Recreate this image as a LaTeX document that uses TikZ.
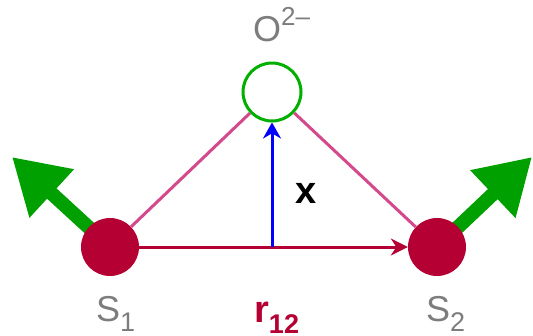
\documentclass[tikz,border=0pt]{standalone}
\usepackage{fontspec}
\setmainfont{Liberation Sans}
\usepackage{xcolor}
\usetikzlibrary{arrows.meta}
\definecolor{ionred}{RGB}{180,0,50}
\definecolor{bondpink}{RGB}{212,72,140}
\definecolor{spingreen}{RGB}{0,160,0}
\definecolor{oxgreen}{RGB}{0,175,0}
\definecolor{labelgray}{RGB}{125,125,125}
\newcommand{\lowidx}[1]{\raisebox{-0.3em}{\fontsize{27}{27}\selectfont #1}}
\newcommand{\highidx}[1]{\raisebox{0.42em}{\fontsize{26}{26}\selectfont #1}}

\begin{document}
\begin{tikzpicture}[x=1pt, y=-1pt, >=Stealth,
  ion/.style={circle, fill=ionred, minimum size=58pt, inner sep=0pt},
  oxy/.style={circle, draw=oxgreen, line width=3pt, fill=white, minimum size=58pt, inner sep=0pt},
  bond/.style={bondpink, line width=3pt},
  spin/.style={spingreen, line width=14pt, -{Triangle[length=54pt, width=62pt]}},
  lbl/.style={labelgray, inner sep=0pt, anchor=base west, font=\fontsize{36}{36}\selectfont}]
  \useasboundingbox (0,0) rectangle (533,335);
  % centres of the two spins and the oxygen
  \coordinate (c1) at (110,247);
  \coordinate (c2) at (437,247);
  % ============= spins =============
  \coordinate (tip1) at (12,157);
  \coordinate (tip2) at (532,157);
  \draw[spin] (c1) -- (tip1);
  \draw[spin] (c2) -- (tip2);
  \node[ion] (s1) at (c1) {};
  \node[ion] (s2) at (c2) {};
  \node[oxy] (o) at (272,92) {};
  % ============= bonds =============
  \draw[bond] (s1) -- (o);
  \draw[bond] (o) -- (s2);
  % r_12 and x
  \draw[ionred, line width=3pt, -{Stealth[length=17pt, width=17pt]}] (s1) -- (s2);
  \coordinate (foot) at (o |- c1);
  \draw[blue, line width=3pt, -{Stealth[length=16pt, width=18pt]}] (foot) -- (o);
  % ============= labels =============
  \node[lbl] (olbl) at (253,41) {O\highidx{2--}};
  \node[lbl] (s1lbl) at (96,321) {S\lowidx{1}};
  \node[lbl] (s2lbl) at (426,321) {S\lowidx{2}};
  \node[lbl, ionred, font=\fontsize{38}{38}\selectfont\bfseries] (rlbl) at (254,322) {r\lowidx{\bfseries 12}};
  \node[lbl, black, font=\fontsize{38}{38}\selectfont\bfseries] (xlbl) at (295,203) {x};
\end{tikzpicture}
\end{document}
